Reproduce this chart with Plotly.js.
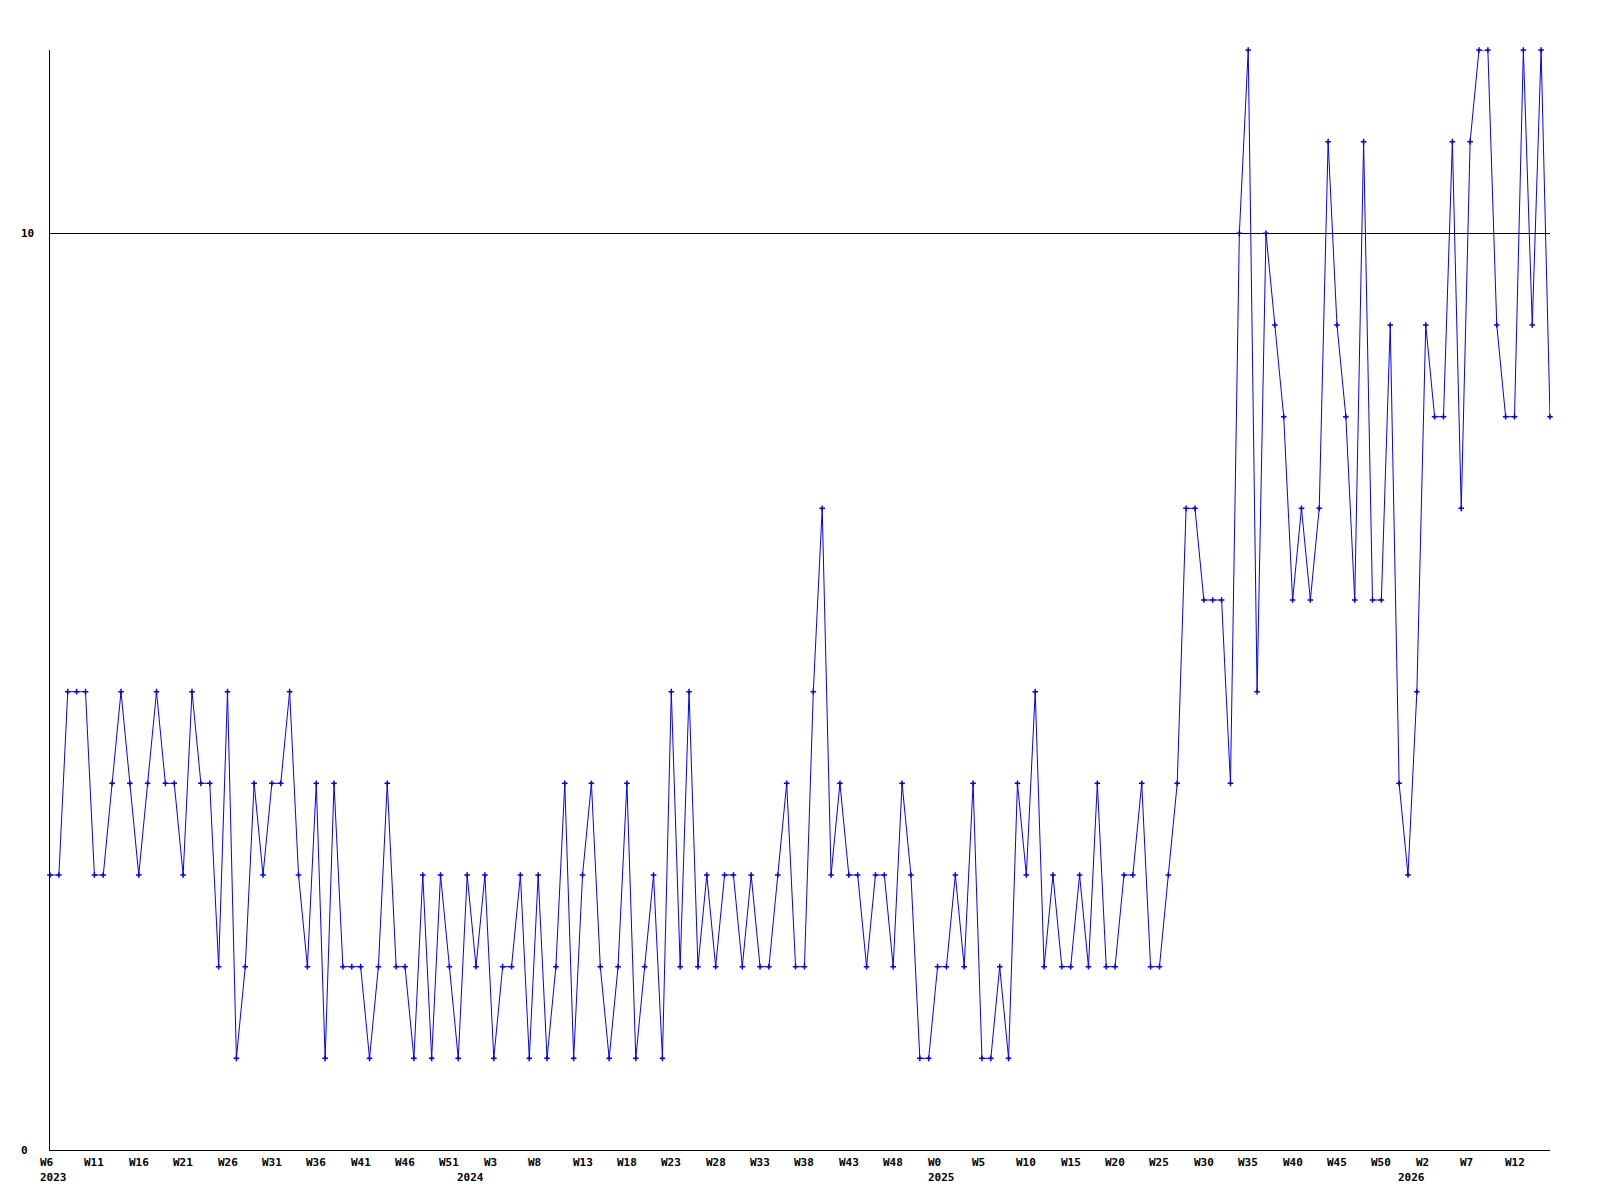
<!DOCTYPE html>
<html>
<head>
<meta charset="utf-8">
<script src="https://cdn.plot.ly/plotly-3.0.1.min.js"></script>
<style>html,body{margin:0;padding:0;background:#fff;}#chart{width:1600px;height:1200px;}</style>
</head>
<body>
<div id="chart"></div>
<script>
// Week segments per year (week numbers as printed on the axis)
const years = [2023, 2024, 2025, 2026];
const firstWeek = [6, 0, 0, 0];
const lastWeek = [52, 52, 52, 16];

// Weekly values, one per week from 2023 W6 to 2026 W16
const values = [
  3,3,5,5,5,3,3,4,5,4, 3,4,5,4,4,3,5,4,4,2,
  5,1,2,4,3,4,4,5,3,2, 4,1,4,2,2,2,1,2,4,2,
  2,1,3,1,3,2,1,3,2,3, 1,2,2,3,1,3,1,2,4,1,
  3,4,2,1,2,4,1,2,3,1, 5,2,5,2,3,2,3,3,2,3,
  2,2,3,4,2,
  2,5,7,3,4,3,3,2,3,3, 2,4,3,1,1,2,2,3,2,4,
  1,1,2,1,4,3,5,2,3,2, 2,3,2,4,2,2,3,3,4,2,
  2,3,4,
  7,7,6,6,6,4,10,12,5,10, 9,8,6,7,6,7,11,9,8,6,
  11,6,6,9,4,3,5,9,8,8, 11,7,11,12,12,9,8,8,12,9,
  12,8
];

const yTickVals = [0, 10];
const labelEvery = 5;

// Build week categories from the segments
const weekNums = [];
const weekYears = [];
years.forEach((yr, k) => {
  for (let w = firstWeek[k]; w <= lastWeek[k]; w++) { weekNums.push(w); weekYears.push(yr); }
});
const xIdx = weekNums.map((_, i) => i);

const font = {family: '"DejaVu Sans Mono", "Liberation Mono", monospace', size: 11, color: '#000', weight: 'bold'};
const annotations = [];
xIdx.forEach(i => {
  if (i % labelEvery === 0) {
    annotations.push({x: i, xref: 'x', y: -12.4/1100, yref: 'paper', text: 'W' + weekNums[i],
      showarrow: false, xanchor: 'left', yanchor: 'middle', xshift: -11, font: font, borderpad: 0});
  }
  if (i === 0 || weekYears[i] !== weekYears[i-1]) {
    annotations.push({x: i, xref: 'x', y: -27/1100, yref: 'paper', text: String(weekYears[i]),
      showarrow: false, xanchor: 'left', yanchor: 'middle', xshift: -11, font: font, borderpad: 0});
  }
});
yTickVals.forEach(v => {
  annotations.push({x: 0, xref: 'paper', xshift: -30, y: v, yref: 'y', text: String(v),
    showarrow: false, xanchor: 'left', yanchor: 'middle', font: font, borderpad: 0});
});

const trace = {
  x: xIdx, y: values, type: 'scatter', mode: 'lines+markers',
  line: {color: '#0000ff', width: 1},
  marker: {symbol: 'cross-thin-open', size: 4, color: '#0000ff', line: {color: '#0000ff', width: 1.5}},
  hoverinfo: 'skip', cliponaxis: false
};

const layout = {
  width: 1600, height: 1200,
  margin: {l: 50, r: 50, t: 50, b: 50, pad: 0},
  paper_bgcolor: '#fff', plot_bgcolor: '#fff',
  showlegend: false,
  font: font,
  xaxis: {range: [0, xIdx.length - 1], showgrid: false, zeroline: false, showline: true,
    linecolor: '#000', linewidth: 1, showticklabels: false, ticks: ''},
  yaxis: {range: [0, 12], tickvals: yTickVals, showgrid: true, gridcolor: '#000', gridwidth: 1,
    zeroline: false, showline: true, linecolor: '#000', linewidth: 1, showticklabels: false, ticks: ''},
  annotations: annotations
};

Plotly.newPlot('chart', [trace], layout, {staticPlot: true, displayModeBar: false});
</script>
</body>
</html>
